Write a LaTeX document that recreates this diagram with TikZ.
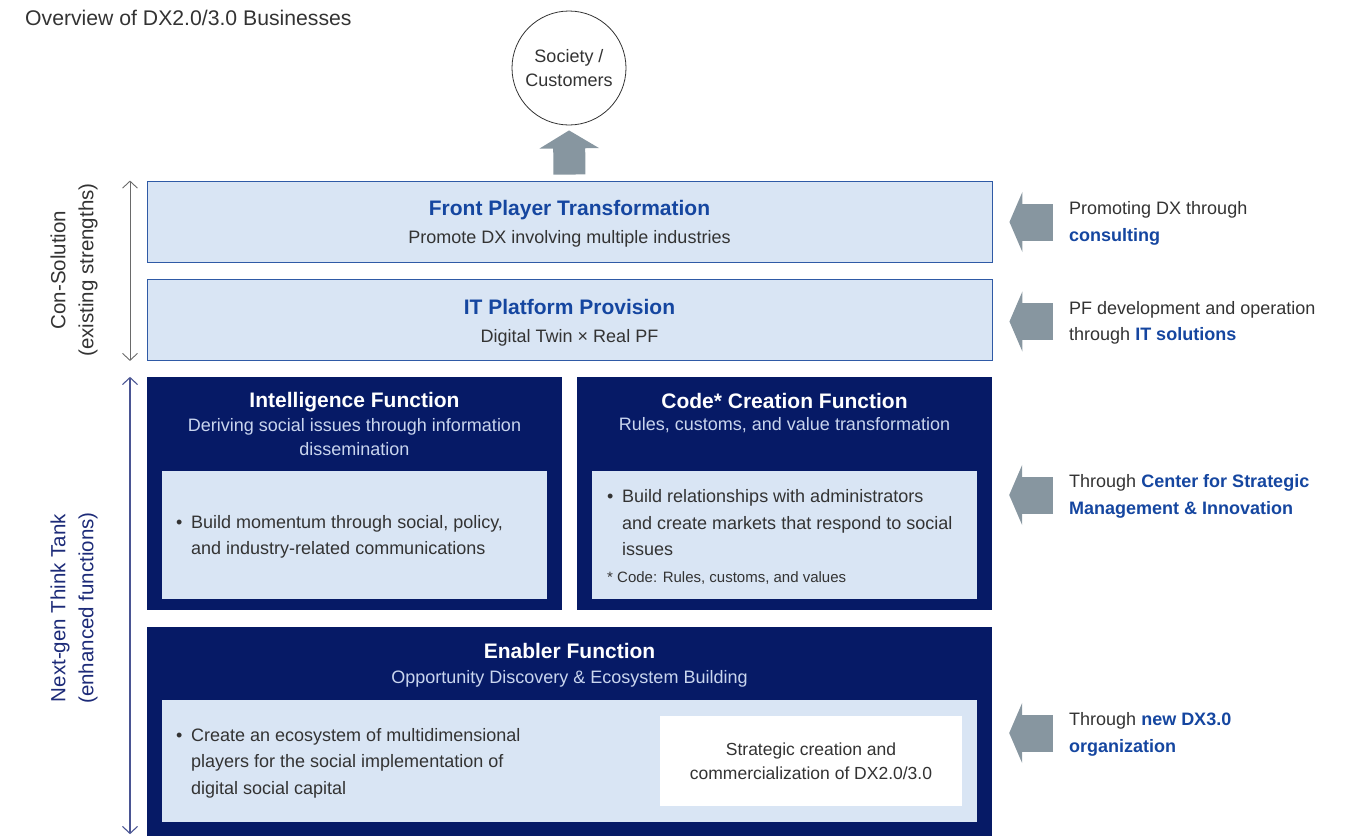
\documentclass[tikz,border=0pt]{standalone}
\usepackage{fontspec}
\setmainfont{Liberation Sans}
\usetikzlibrary{positioning,arrows.meta,calc}
\definecolor{paleFill}{HTML}{D9E5F4}
\definecolor{paleStroke}{HTML}{2F5AA6}
\definecolor{navyFill}{HTML}{061A66}
\definecolor{navySub}{HTML}{C9D5EE}
\definecolor{accentText}{HTML}{1546A0}
\definecolor{bodyText}{HTML}{333333}
\definecolor{arrowGrey}{HTML}{8796A0}
\definecolor{sideGrey}{HTML}{6A6A6A}
\definecolor{sideNavy}{HTML}{1D2B78}
\newcommand{\keyterm}[1]{\textcolor{accentText}{\textbf{#1}}}
\newcommand{\bul}{\makebox[15pt][l]{\textbullet}}
\newcommand{\hang}{\hspace*{15pt}}

\begin{document}
\begin{tikzpicture}[
  x=1pt, y=-1pt,
  every node/.style={text=bodyText, inner sep=0pt},
  pale/.style    ={draw=paleStroke, fill=paleFill, line width=0.9pt, minimum width=845pt, minimum height=81pt},
  paleText/.style={align=center, font=\fontsize{18}{28}\selectfont},
  navy/.style    ={fill=navyFill, minimum width=415pt, minimum height=233pt},
  inbox/.style   ={fill=paleFill, minimum width=385pt, minimum height=128pt},
  navyTitle/.style={text=white, font=\fontsize{21}{26}\selectfont\bfseries},
  navySubT/.style ={text=navySub, align=center, font=\fontsize{18}{24}\selectfont},
  bullet/.style  ={anchor=west, align=left, font=\fontsize{18}{26.5}\selectfont},
  side/.style    ={anchor=west, align=left, font=\fontsize{18}{26.5}\selectfont},
  sideLbl/.style ={rotate=90, align=center, font=\fontsize{20.5}{28}\selectfont},
  upArr/.style   ={draw=arrowGrey, line width=32pt, -{Triangle[length=18pt,width=59pt]}, shorten <=6pt, shorten >=5pt},
  sideArr/.style ={draw=arrowGrey, line width=37pt, -{Triangle[length=13pt,width=60pt]}, shorten <=16pt, shorten >=17pt},
  conArr/.style  ={draw=sideGrey, line width=0.9pt, {Straight Barb[length=7pt,width=15pt]}-{Straight Barb[length=7pt,width=15pt]}},
  nextArr/.style ={draw=sideNavy!80, line width=1.1pt, {Straight Barb[length=7pt,width=15pt]}-{Straight Barb[length=7pt,width=15pt]}},
]
\useasboundingbox (0,0) rectangle (1358,836);

% ============ Title and top ============
\node[anchor=west, font=\fontsize{21.2}{24}\selectfont] (ttl) at (25,18) {Overview of DX2.0/3.0 Businesses};
\node[draw=bodyText, circle, line width=0.8pt, minimum size=114pt, align=center, font=\fontsize{18}{24}\selectfont] (soc) at (569,68) {Society /\\Customers};

% ============ Con-Solution boxes ============
\node[pale] (front) at (569.5,221.5) {};
\node[pale] (it) at (569.5,320) {};
\node[paleText] (frontT) at (569.5,224) {{\fontsize{21}{28}\selectfont\bfseries\color{accentText}Front Player Transformation}\\Promote DX involving multiple industries};
\node[paleText] (itT) at (569.5,322.5) {{\fontsize{21}{28}\selectfont\bfseries\color{accentText}IT Platform Provision}\\Digital Twin × Real PF};

% ============ Think tank boxes ============
\node[navy] (intel) at (354.5,493.5) {};
\node[navy] (code)  at (784.5,493.5) {};
\node[navy, minimum width=845pt, minimum height=209pt] (enab) at (569.5,731.5) {};

\node[inbox] (intelIn) at (354.5,535) {};
\node[inbox] (codeIn)  at (784.5,535) {};
\node[inbox, minimum width=815pt, minimum height=122pt] (enabIn) at (569.5,761) {};
\node[fill=white, minimum width=302pt, minimum height=90pt, align=center, font=\fontsize{17.5}{24}\selectfont] (strat) at (811,761) {Strategic creation and\\commercialization of DX2.0/3.0};

\node[navyTitle] (intelT) at (354.5,402.5) {Intelligence Function};
\node[navySubT]  (intelS) at (354.5,437) {Deriving social issues through information\\dissemination};
\node[navyTitle] (codeT)  at (784.5,401) {Code* Creation Function};
\node[navySubT]  (codeS)  at (784.5,425) {Rules, customs, and value transformation};
\node[navyTitle] (enabT)  at (569.5,651) {Enabler Function};
\node[navySubT]  (enabS)  at (569.5,678.5) {Opportunity Discovery \& Ecosystem Building};

\node[bullet] (intelB) at (176,537) {\bul Build momentum through social, policy,\\\hang and industry-related communications};
\node[bullet] (codeB)  at (607,523) {\bul Build relationships with administrators\\\hang and create markets that respond to social\\\hang issues};
\node[anchor=west, font=\fontsize{15}{18}\selectfont] (codeN) at (607,578) {* Code: Rules, customs, and values};
\node[bullet] (enabB)  at (176,763) {\bul Create an ecosystem of multidimensional\\\hang players for the social implementation of\\\hang digital social capital};

% ============ Side labels ============
\node[sideLbl] (conL)  at (74,270) {Con-Solution\\(existing strengths)};
\node[sideLbl, text=sideNavy] (nextL) at (74,608) {Next-gen Think Tank\\(enhanced functions)};
\coordinate (lx) at (130,0);

\node[side] (lc)  at (1069,223.5) {Promoting DX through\\\keyterm{consulting}};
\node[side] (lit) at (1069,323)   {PF development and operation\\through \keyterm{IT solutions}};
\node[side] (lcs) at (1069,496.5) {Through \keyterm{Center for Strategic}\\\keyterm{Management \& Innovation}};
\node[side] (lnx) at (1069,734.5) {Through \keyterm{new DX3.0}\\\keyterm{organization}};

% ============ Arrows ============
\draw[upArr] (front.north) -- (soc.south);
\foreach \l/\b in {lc/front, lit/it, lcs/code, lnx/enab} {
  \draw[sideArr] ([yshift=1.5pt]\l.west) -- ([yshift=1.5pt]\l.west -| \b.east);
}
\draw[conArr]  (front.north west -| lx) -- (it.south west -| lx);
\draw[nextArr] (intel.north west -| lx) -- ([yshift=2pt]enab.south west -| lx);

\end{tikzpicture}
\end{document}
